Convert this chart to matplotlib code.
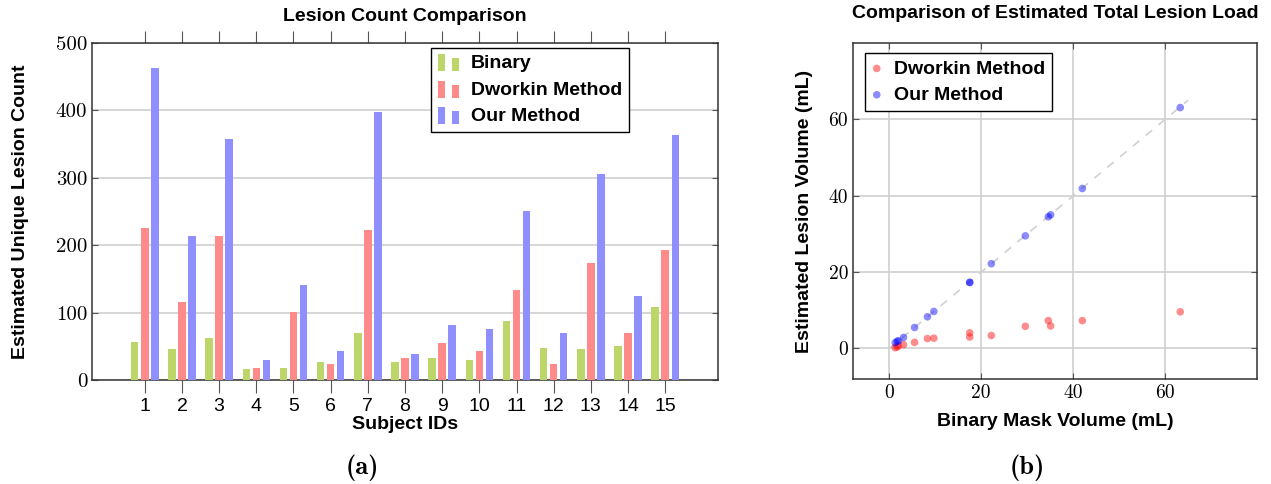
import numpy as np
import matplotlib
matplotlib.use("Agg")
import matplotlib.pyplot as plt
from matplotlib.patches import Rectangle
from matplotlib.legend_handler import HandlerBase

# lesion counts per subject
subjects = list(range(1, 16))
binary_counts = [57, 46, 63, 17, 18, 26, 70, 27, 33, 30, 87, 47, 46, 51, 109]
dworkin_counts = [226, 115, 213, 18, 101, 23, 223, 33, 55, 43, 133, 23, 174, 70, 193]
ours_counts = [463, 213, 358, 30, 141, 43, 397, 39, 82, 76, 251, 69, 306, 124, 363]

# total lesion load (mL)
binary_vol = [63.3, 42.0, 35.1, 34.6, 29.6, 22.2, 17.5, 17.5, 9.7, 8.3, 5.5, 3.1, 2.0, 1.7, 1.3]
dworkin_vol = [9.6, 7.3, 5.9, 7.3, 5.8, 3.4, 4.1, 3.0, 2.7, 2.6, 1.6, 1.0, 0.7, 0.4, 0.2]
ours_vol = [63.1, 41.9, 35.0, 34.5, 29.5, 22.2, 17.3, 17.3, 9.7, 8.3, 5.5, 2.9, 2.0, 1.9, 1.5]

sans = ['Liberation Sans', 'DejaVu Sans']
serif = ['cmr10', 'DejaVu Serif']
plt.rcParams['axes.formatter.use_mathtext'] = True

green = '#bcd66a'
red = '#ff8a8a'
blue = '#8f8fff'
grid_c = '#cfcfcf'
tick_c = '#555555'
fs = 14


# pgfplots-style ybar legend image: two little bars, the second one shorter
class TwoBars(HandlerBase):
    def create_artists(self, legend, orig_handle, xdescent, ydescent,
                       width, height, fontsize, trans):
        c = orig_handle.get_facecolor()
        bw = width * 0.33
        h1 = height * 1.25
        h2 = height * 0.95
        y0 = -ydescent - height * 0.2
        r1 = Rectangle((-xdescent, y0), bw, h1, facecolor=c, edgecolor='none', transform=trans)
        r2 = Rectangle((-xdescent + width - bw, y0), bw, h2, facecolor=c, edgecolor='none', transform=trans)
        return [r1, r2]


fig = plt.figure(figsize=(12.71, 4.84), dpi=100)
ax1 = fig.add_axes([0.0724, 0.2149, 0.4925, 0.6963])
ax2 = fig.add_axes([0.6711, 0.2169, 0.3179, 0.6942])

# (a) bar chart
x = np.array(subjects)
w = 0.2
off = 0.27
b1 = ax1.bar(x - off, binary_counts, w, color=green, label='Binary', zorder=3)
b2 = ax1.bar(x, dworkin_counts, w, color=red, label='Dworkin Method', zorder=3)
b3 = ax1.bar(x + off, ours_counts, w, color=blue, label='Our Method', zorder=3)
ax1.set_xlim(-0.42, 16.42)
ax1.set_ylim(0, 500)
ax1.set_xticks(subjects)
ax1.set_xticklabels([str(s) for s in subjects], family=sans, fontsize=fs)
ax1.set_yticks([0, 100, 200, 300, 400, 500])
ax1.set_yticklabels(['0', '100', '200', '300', '400', '500'], family=serif, fontsize=15)
ax1.tick_params(axis='x', direction='out', length=9, color=tick_c, top=True, pad=4)
ax1.tick_params(axis='y', direction='in', length=4, color=tick_c, right=True)
ax1.yaxis.grid(True, color=grid_c, lw=1.2, zorder=0)
ax1.set_axisbelow(True)
ax1.set_title('Lesion Count Comparison', family=sans, fontweight='bold', fontsize=fs, pad=16)
ax1.set_xlabel('Subject IDs', family=sans, fontweight='bold', fontsize=fs, labelpad=1)
ax1.set_ylabel('Estimated Unique Lesion Count', family=sans, fontweight='bold', fontsize=fs, labelpad=19)
leg1 = ax1.legend([b1.patches[0], b2.patches[0], b3.patches[0]],
                  ['Binary', 'Dworkin Method', 'Our Method'],
                  handler_map={Rectangle: TwoBars()},
                  loc='upper left', bbox_to_anchor=(0.5415, 0.985), borderaxespad=0,
                  prop={'family': sans, 'weight': 'bold', 'size': fs},
                  fancybox=False, edgecolor='black', framealpha=1, borderpad=0.35, labelspacing=0.45,
                  handlelength=1.1, handletextpad=0.6)
leg1.get_frame().set_linewidth(1.0)

# (b) scatter
ax2.plot([0, 65], [0, 65], color='#d0d0d0', lw=1.2, ls=(0, (5, 5)), zorder=2)
ax2.scatter(binary_vol, dworkin_vol, s=30, color='red', alpha=0.45, edgecolors='none', label='Dworkin Method', zorder=3)
ax2.scatter(binary_vol, ours_vol, s=30, color='blue', alpha=0.45, edgecolors='none', label='Our Method', zorder=3)
ax2.set_xlim(-7.9, 80)
ax2.set_ylim(-8, 80)
ax2.set_xticks([0, 20, 40, 60])
ax2.set_yticks([0, 20, 40, 60])
ax2.set_xticklabels(['0', '20', '40', '60'], family=serif, fontsize=14)
ax2.set_yticklabels(['0', '20', '40', '60'], family=serif, fontsize=14)
ax2.tick_params(direction='in', length=4, color=tick_c, top=True, right=True)
ax2.grid(True, color=grid_c, lw=1.2, zorder=0)
ax2.set_axisbelow(True)
ax2.set_title('Comparison of Estimated Total Lesion Load', family=sans, fontweight='bold', fontsize=fs, pad=18)
ax2.set_xlabel('Binary Mask Volume (mL)', family=sans, fontweight='bold', fontsize=fs, labelpad=8)
ax2.set_ylabel('Estimated Lesion Volume (mL)', family=sans, fontweight='bold', fontsize=fs, labelpad=11)
leg2 = ax2.legend(loc='upper left', bbox_to_anchor=(0.03, 0.97), borderaxespad=0,
                  prop={'family': sans, 'weight': 'bold', 'size': fs},
                  fancybox=False, edgecolor='black', framealpha=1, borderpad=0.35, labelspacing=0.45,
                  handlelength=0.5, handletextpad=0.65, scatterpoints=1)
leg2.get_frame().set_linewidth(1.0)

for ax in (ax1, ax2):
    for sp in ax.spines.values():
        sp.set_color('#333333')
        sp.set_linewidth(1.1)

fig.text(362 / 1271, 1 - 468 / 484, '(a)', family=['cmb10', 'DejaVu Serif'], fontsize=19, ha='center', va='center')
fig.text(1027 / 1271, 1 - 468 / 484, '(b)', family=['cmb10', 'DejaVu Serif'], fontsize=19, ha='center', va='center')

fig.savefig('out.png', dpi=100)
